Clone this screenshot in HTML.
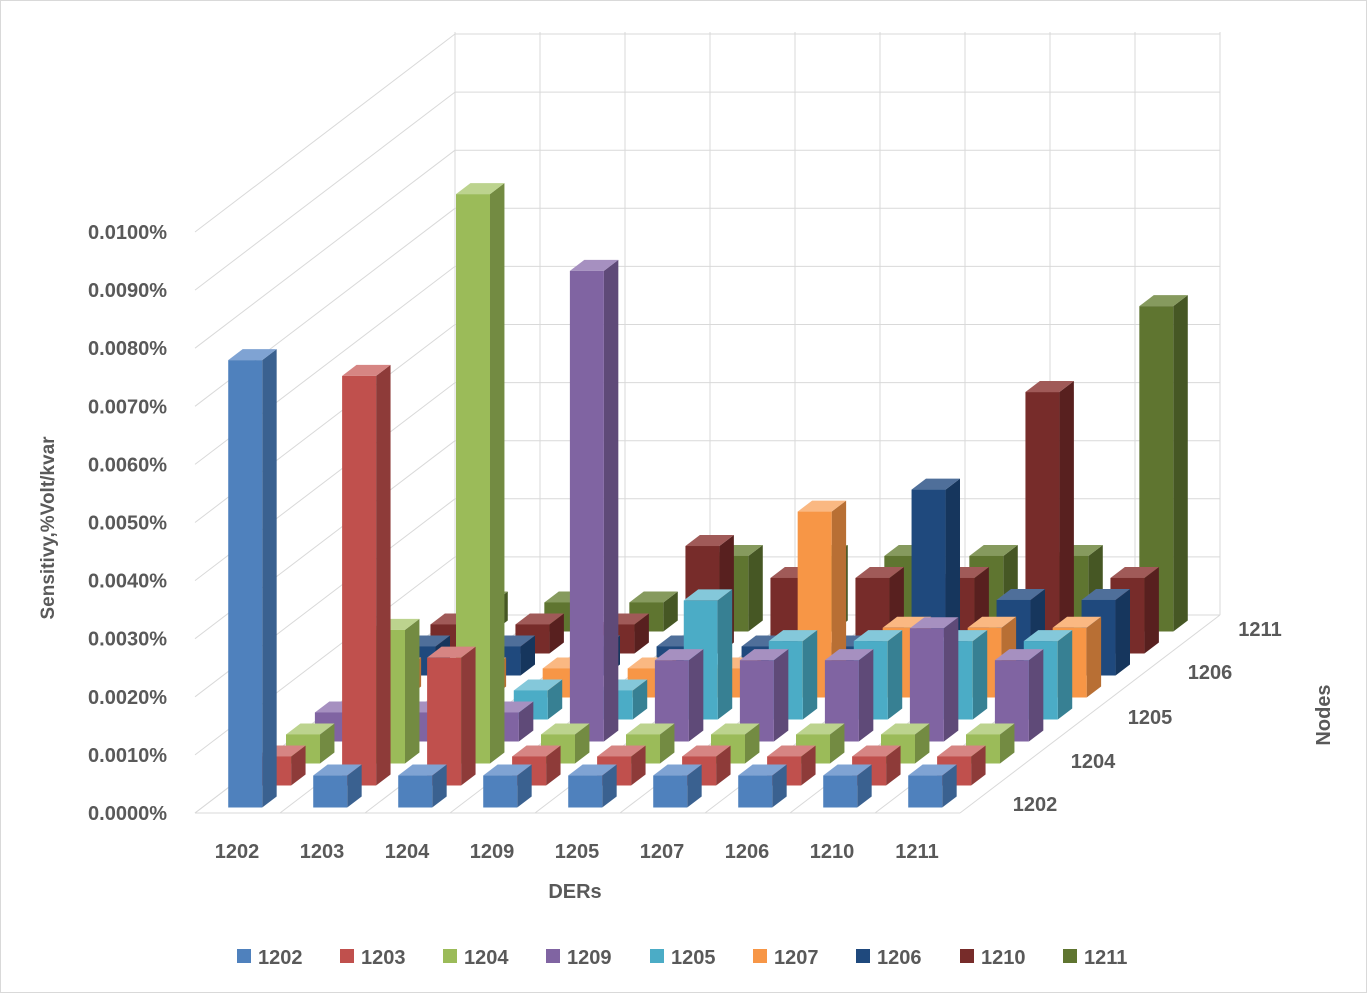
<!DOCTYPE html>
<html><head><meta charset="utf-8">
<style>
html,body{margin:0;padding:0;background:#fff;}
svg{display:block;font-family:"Liberation Sans",sans-serif;}
</style></head>
<body>
<svg id="c" width="1367" height="993" xmlns="http://www.w3.org/2000/svg">
<rect x="0.5" y="0.5" width="1366" height="992" fill="#fff" stroke="#d9d9d9"/>
<g id="grid" stroke="#d9d9d9" stroke-width="1" fill="none"></g>
<g id="bars"></g>
<g id="labels" fill="#595959" font-size="20" font-weight="bold"></g>
</svg>
<script>
const NS="http://www.w3.org/2000/svg";
function el(p,t,a,txt){const e=document.createElementNS(NS,t);for(const k in a)e.setAttribute(k,a[k]);if(txt!==undefined)e.textContent=txt;p.appendChild(e);return e;}
const grid=document.getElementById('grid'),bars=document.getElementById('bars'),lab=document.getElementById('labels');
const X0=195,Y0=813,SL=85,DX=260,DY=-198,U=58.1;
for(let k=0;k<=9;k++){const x=X0+DX+k*SL;el(grid,'line',{x1:x,y1:32,x2:x,y2:Y0+DY});}
for(let i=0;i<=10;i++){const y=Y0-i*U;
 el(grid,'line',{x1:X0+DX,y1:y+DY,x2:X0+DX+9*SL,y2:y+DY});
 el(grid,'line',{x1:X0,y1:y,x2:X0+DX,y2:y+DY});}
for(let k=0;k<=9;k++){const x=X0+k*SL;el(grid,'line',{x1:x,y1:Y0,x2:x+DX,y2:Y0+DY});}
el(grid,'line',{x1:X0,y1:Y0,x2:X0+9*SL,y2:Y0});
const cols=[["#4f81bd","#3a6190","#7fa3d3"],["#c0504d","#8e3b39","#d68583"],["#9bbb59","#738b42","#bcd38e"],["#8064a2","#5f4a78","#a690c0"],["#4bacc6","#378093","#84c8da"],["#f79646","#b86f34","#fab882"],["#1f497d","#16365d","#4f6f9a"],["#772c2a","#58201f","#a05a58"],["#5f7530","#465724","#869a5e"]];
const M=[
[7.7,.55,.55,.55,.55,.55,.55,.55,.55],
[.5,7.05,2.2,.5,.5,.5,.5,.5,.5],
[.5,2.3,9.8,.5,.5,.5,.5,.5,.5],
[.5,.5,.5,8.1,1.4,1.4,1.4,1.95,1.4],
[.5,.5,.5,.5,2.05,1.35,1.35,1.35,1.35],
[.5,.5,.5,.5,.5,3.2,1.2,1.2,1.2],
[.5,.5,.5,.5,.5,.5,3.2,1.3,1.3],
[.5,.5,.5,1.85,1.3,1.3,1.3,4.5,1.3],
[.5,.5,.5,1.3,1.3,1.3,1.3,1.3,5.6]];
const rdx=DX/9,rdy=DY/9,bw=34,bdx=rdx*0.5,bdy=rdy*0.5;
for(let r=8;r>=0;r--){for(let k=0;k<9;k++){
 const v=M[r][k];const x=X0+k*SL+26+r*rdx+rdx*0.25;const yb=Y0+r*rdy+rdy*0.25;const yt=yb-v*U;
 const c=cols[r];
 el(bars,'polygon',{points:`${x+bw},${yt} ${x+bw+bdx},${yt+bdy} ${x+bw+bdx},${yb+bdy} ${x+bw},${yb}`,fill:c[1]});
 el(bars,'polygon',{points:`${x},${yt} ${x+bdx},${yt+bdy} ${x+bw+bdx},${yt+bdy} ${x+bw},${yt}`,fill:c[2]});
 el(bars,'rect',{x:x,y:yt,width:bw,height:yb-yt,fill:c[0]});
}}
for(let i=0;i<=10;i++){el(lab,'text',{x:167,y:Y0-i*U+7,'text-anchor':'end'},(i*0.001).toFixed(4)+'%');}
const names=["1202","1203","1204","1209","1205","1207","1206","1210","1211"];
names.forEach((n,k)=>el(lab,'text',{x:X0+k*SL+42,y:858,'text-anchor':'middle'},n));
el(lab,'text',{x:575,y:898,'text-anchor':'middle'},'DERs');
const dl=[["1202",1035,811],["1204",1093,768],["1205",1150,724],["1206",1210,679],["1211",1260,636]];
dl.forEach(d=>el(lab,'text',{x:d[1],y:d[2],'text-anchor':'middle'},d[0]));
el(lab,'text',{x:0,y:0,transform:'translate(54,528) rotate(-90)','text-anchor':'middle','font-size':'19'},'Sensitivy,%Volt/kvar');
el(lab,'text',{x:0,y:0,transform:'translate(1330,715) rotate(-90)','text-anchor':'middle'},'Nodes');
const lx=[237,340,443,546,650,753,856,960,1063];
names.forEach((n,i)=>{el(lab,'rect',{x:lx[i],y:949,width:14,height:14,fill:cols[i][0]});el(lab,'text',{x:lx[i]+21,y:964},n);});
</script>
</body></html>
